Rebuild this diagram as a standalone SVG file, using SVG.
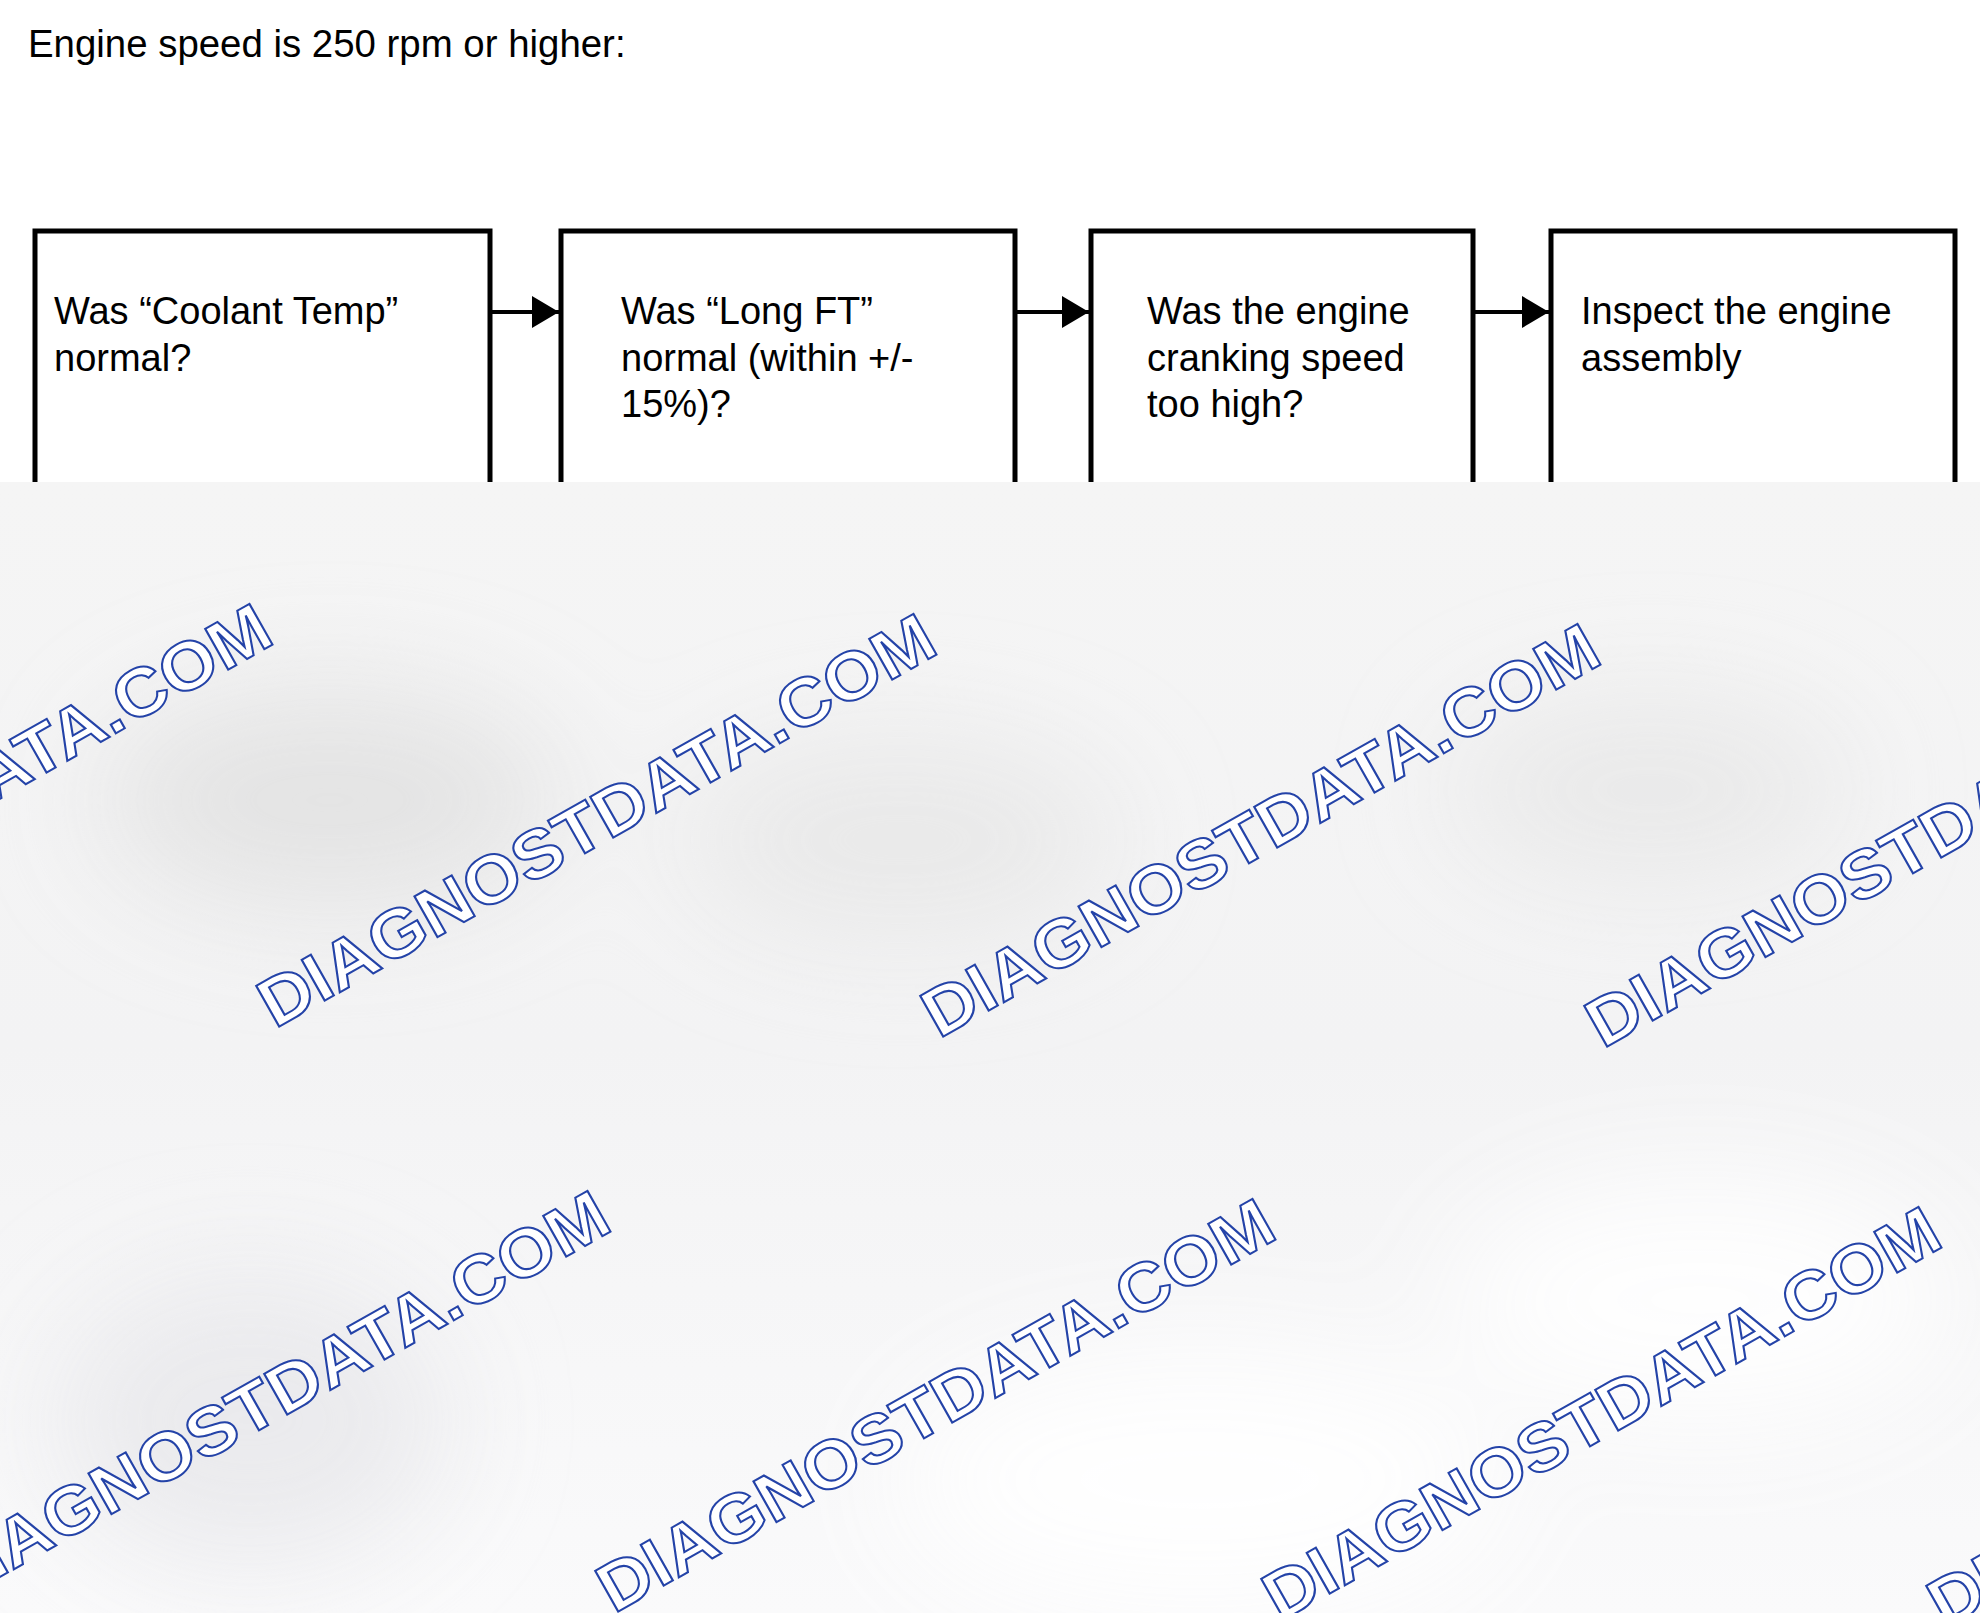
<svg xmlns="http://www.w3.org/2000/svg" width="1980" height="1613" viewBox="0 0 1980 1613">
<style>
.t{font-family:"Liberation Sans",Arial,sans-serif;font-size:38px;fill:#000}
.box{fill:#fff;stroke:#000;stroke-width:5}
.conn{stroke:#000;stroke-width:4;fill:none}
.wm{font-family:"Liberation Sans",Arial,sans-serif;font-weight:bold;font-size:68px;fill:#fff;stroke:#2443a8;stroke-width:2;text-anchor:middle}
</style>
<defs>
<marker id="ah" markerUnits="userSpaceOnUse" markerWidth="28" markerHeight="32" refX="27" refY="16" orient="auto">
<path d="M0,0 L27,16 L0,32 z" fill="#000"/>
</marker>
<linearGradient id="bg" x1="0" y1="0" x2="0" y2="1">
<stop offset="0" stop-color="#f5f5f5"/>
<stop offset="0.5" stop-color="#f3f3f4"/>
<stop offset="1" stop-color="#fafafb"/>
</linearGradient>
<filter id="blur" x="-50%" y="-50%" width="200%" height="200%">
<feGaussianBlur stdDeviation="60"/>
</filter>
</defs>
<rect width="1980" height="1613" fill="#fff"/>
<text class="t" x="28" y="57" style="font-size:38.4px">Engine speed is 250 rpm or higher:</text>
<g id="connectors">
<line class="conn" x1="492" y1="312" x2="559" y2="312" marker-end="url(#ah)"/>
<line class="conn" x1="1017" y1="312" x2="1089" y2="312" marker-end="url(#ah)"/>
<line class="conn" x1="1475" y1="312" x2="1549" y2="312" marker-end="url(#ah)"/>
</g>
<g id="node1">
<rect class="box" x="35" y="231" width="455" height="400"/>
<text class="t" x="54" y="324">Was “Coolant Temp”</text>
<text class="t" x="54" y="371">normal?</text>
</g>
<g id="node2">
<rect class="box" x="561" y="231" width="454" height="400"/>
<text class="t" x="621" y="324">Was “Long FT”</text>
<text class="t" x="621" y="371">normal (within +/-</text>
<text class="t" x="621" y="417">15%)?</text>
</g>
<g id="node3">
<rect class="box" x="1091" y="231" width="382" height="400"/>
<text class="t" x="1147" y="324">Was the engine</text>
<text class="t" x="1147" y="371">cranking speed</text>
<text class="t" x="1147" y="417">too high?</text>
</g>
<g id="node4">
<rect class="box" x="1551" y="231" width="404" height="400"/>
<text class="t" x="1581" y="324">Inspect the engine</text>
<text class="t" x="1581" y="371">assembly</text>
</g>
<g id="overlay">
<rect x="0" y="482" width="1980" height="1131" fill="url(#bg)"/>
<g filter="url(#blur)" opacity="0.9">
<ellipse cx="330" cy="800" rx="230" ry="110" fill="#e2e2e2"/>
<ellipse cx="900" cy="840" rx="220" ry="100" fill="#e8e8e8"/>
<ellipse cx="1650" cy="790" rx="200" ry="90" fill="#e8e8e8"/>
<ellipse cx="250" cy="1420" rx="200" ry="150" fill="#e9e9ec"/>
<ellipse cx="1200" cy="1480" rx="300" ry="130" fill="#ffffff"/>
<ellipse cx="1700" cy="1300" rx="250" ry="120" fill="#ffffff"/>
</g>
</g>
<g id="watermarks">
<text class="wm" transform="translate(-69,808) rotate(-29.5)" y="26" textLength="765" lengthAdjust="spacingAndGlyphs">DIAGNOSTDATA.COM</text>
<text class="wm" transform="translate(595,818) rotate(-29.5)" y="26" textLength="765" lengthAdjust="spacingAndGlyphs">DIAGNOSTDATA.COM</text>
<text class="wm" transform="translate(1259,828) rotate(-29.5)" y="26" textLength="765" lengthAdjust="spacingAndGlyphs">DIAGNOSTDATA.COM</text>
<text class="wm" transform="translate(1923,838) rotate(-29.5)" y="26" textLength="765" lengthAdjust="spacingAndGlyphs">DIAGNOSTDATA.COM</text>
<text class="wm" transform="translate(269,1395) rotate(-29.5)" y="26" textLength="765" lengthAdjust="spacingAndGlyphs">DIAGNOSTDATA.COM</text>
<text class="wm" transform="translate(934,1403) rotate(-29.5)" y="26" textLength="765" lengthAdjust="spacingAndGlyphs">DIAGNOSTDATA.COM</text>
<text class="wm" transform="translate(1600,1411) rotate(-29.5)" y="26" textLength="765" lengthAdjust="spacingAndGlyphs">DIAGNOSTDATA.COM</text>
<text class="wm" transform="translate(2265,1418) rotate(-29.5)" y="26" textLength="765" lengthAdjust="spacingAndGlyphs">DIAGNOSTDATA.COM</text>
</g>
</svg>
